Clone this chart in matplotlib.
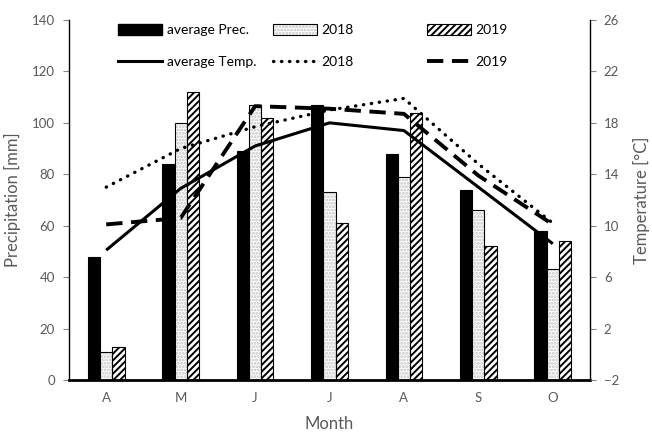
import matplotlib
matplotlib.use("Agg")
import matplotlib.pyplot as plt
import numpy as np
from matplotlib.patches import Patch
from matplotlib.lines import Line2D
from matplotlib.legend_handler import HandlerTuple

plt.rcParams['font.family'] = ['Lato', 'DejaVu Sans']
plt.rcParams['hatch.linewidth'] = 1.4

months = ["A", "M", "J", "J", "A", "S", "O"]

# Precipitation [mm]
prec_avg = [48, 84, 89, 107, 88, 74, 58]
prec_2018 = [11, 100, 107, 73, 79, 66, 43]
prec_2019 = [13, 112, 102, 61, 104, 52, 54]

# Temperature [°C]
temp_avg = [8.1, 12.9, 16.2, 18.0, 17.4, 13.0, 8.6]
temp_2018 = [13.0, 16.0, 17.7, 19.0, 19.9, 14.8, 10.2]
temp_2019 = [10.1, 10.6, 19.3, 19.1, 18.7, 13.9, 10.1]

gray = "#595959"
dot_gray = "#c4c4c4"
x = np.arange(len(months))
w = 0.165

fig = plt.figure(figsize=(6.52, 4.33), dpi=100)
ax = fig.add_axes([69 / 652, 1 - 380 / 433, (590 - 69) / 652, 360 / 433])
ax2 = ax.twinx()

ax.bar(x - w, prec_avg, w, color="black", edgecolor="black", linewidth=0.8, zorder=2)
# 2018: fine light-gray stipple, then a black outline on top
ax.bar(x, prec_2018, w, color="white", edgecolor=dot_gray, linewidth=0,
       hatch=".....", zorder=2)
ax.bar(x, prec_2018, w, fill=False, edgecolor="black", linewidth=0.8, zorder=2.1)
ax.bar(x + w, prec_2019, w, color="white", edgecolor="black", linewidth=0.8,
       hatch="/////", zorder=2)

ax2.plot(x, temp_avg, color="black", lw=2.2, solid_capstyle="butt")
ax2.plot(x, temp_2018, color="black", lw=2.4, linestyle=(0, (0.1, 2.3)),
         dash_capstyle="round")
ax2.plot(x, temp_2019, color="black", lw=2.8, linestyle=(0, (4.2, 2.2)),
         dash_capstyle="butt")

ax.set_xlim(-0.5, 6.5)
ax.set_ylim(0, 140)
ax.set_yticks(np.arange(0, 141, 20))
ax2.set_ylim(-2, 26)
ax2.set_yticks(np.arange(-2, 27, 4))

ax.set_xticks(x)
ax.set_xticklabels(months)

for a in (ax, ax2):
    a.spines["top"].set_visible(False)
    a.tick_params(colors=gray, labelsize=9.5, length=4, width=0.8)
    a.tick_params(axis="y", pad=6)
ax.tick_params(axis="x", length=0, pad=9)
ax.tick_params(axis="y", color="#888888")
ax2.tick_params(axis="y", color="#888888")
ax.spines["left"].set_linewidth(1.0)
ax2.spines["right"].set_linewidth(1.0)
ax.spines["bottom"].set_linewidth(2.0)
ax2.spines["bottom"].set_visible(False)
ax.spines["right"].set_visible(False)
ax2.spines["left"].set_visible(False)

ax.set_ylabel("Precipitation [mm]", color=gray, fontsize=12, labelpad=8)
ax2.set_ylabel("Temperature [°C]", color=gray, fontsize=12, labelpad=10)
ax.set_xlabel("Month", color=gray, fontsize=12, labelpad=8)

# Legend: three columns placed separately, bars on top row, lines below
stipple = (Patch(facecolor="white", edgecolor=dot_gray, hatch=".....", linewidth=0),
           Patch(fill=False, edgecolor="black", linewidth=0.8))
cols = [
    (Patch(facecolor="black", edgecolor="black"), "average Prec.",
     Line2D([], [], color="black", lw=2.2), "average Temp.", 118),
    (stipple, "2018",
     Line2D([], [], color="black", lw=2.4, linestyle=(0, (0.1, 2.3)),
            dash_capstyle="round"), "2018", 273),
    (Patch(facecolor="white", edgecolor="black", hatch="/////", linewidth=0.8), "2019",
     Line2D([], [], color="black", lw=2.8, linestyle=(0, (4.2, 2.2))), "2019", 427),
]
for hb, lb, hl, ll, px in cols:
    leg = fig.legend([hb, hl], [lb, ll], loc="upper left",
                     bbox_to_anchor=(px / 652, 1 - 24 / 433), frameon=False,
                     fontsize=10, handlelength=3.2, handleheight=0.8,
                     handletextpad=0.3, labelspacing=1.45, borderpad=0,
                     borderaxespad=0,
                     handler_map={tuple: HandlerTuple(ndivide=1, pad=0)})
    for t in leg.get_texts():
        t.set_color("black")

fig.savefig("out.png", dpi=100)
